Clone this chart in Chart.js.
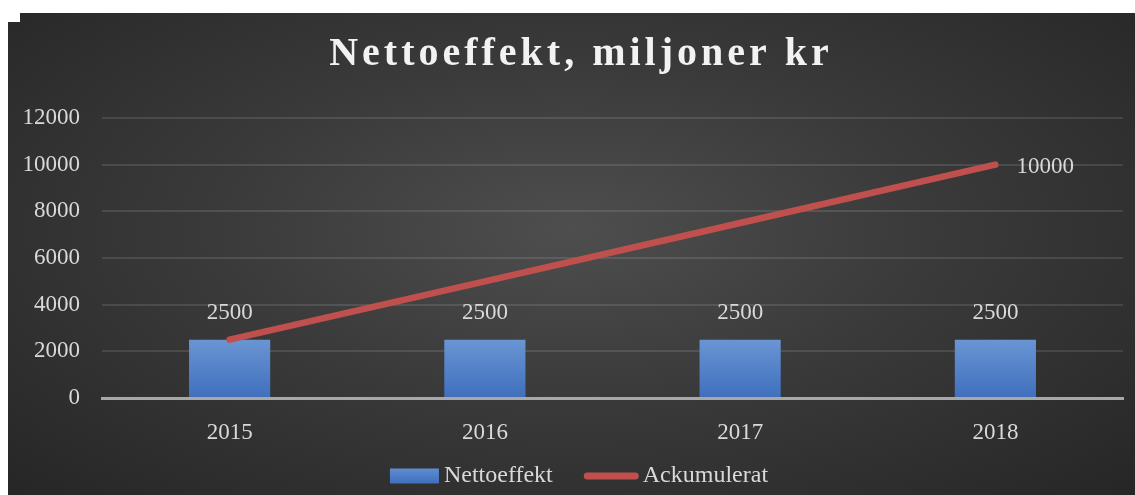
<!DOCTYPE html>
<html>
<head>
<meta charset="utf-8">
<script src="https://cdn.jsdelivr.net/npm/chart.js@4/dist/chart.umd.min.js"></script>
<style>
  body { margin: 0; background: #fff; }
  #ramme {
    position: absolute; left: 8px; top: 13px; width: 1127px; height: 482px;
    background: radial-gradient(ellipse at 50% 45%, #4e4e4e 0%, #3a3a3a 45%, #262626 100%);
  }
  #hjorne { position: absolute; left: 8px; top: 13px; width: 12px; height: 9px; background: #fff; }
</style>
</head>
<body>
<div id="ramme"><canvas id="graf" width="1127" height="482"></canvas></div>
<div id="hjorne"></div>
<script>
let aar = ['2015', '2016', '2017', '2018'];
let nettoeffekt = [2500, 2500, 2500, 2500];
let ackumulerat = [2500, 5000, 7500, 10000];
let yTicks = [0, 2000, 4000, 6000, 8000, 10000, 12000];
let titel = 'Nettoeffekt, miljoner kr';
let serieNavn = ['Nettoeffekt', 'Ackumulerat'];

let tekstFarge = '#d9d9d9';
let skrift = '"Liberation Serif", "Times New Roman", serif';
let rod = '#c0504d';

// blå gradient på søylene
function soyleFarge(context){
  let area = context.chart.chartArea;
  if (!area) return '#4f7fc6';
  let ctx = context.chart.ctx;
  let y0 = context.chart.scales.y.getPixelForValue(2500);
  let g = ctx.createLinearGradient(0, y0, 0, area.bottom);
  g.addColorStop(0, '#6a95d4');
  g.addColorStop(1, '#3f6fbd');
  return g;
}

// tittel med sperret skrift
let tittelPlugin = {
  id: 'tittel',
  afterDraw(chart){
    let ctx = chart.ctx;
    ctx.save();
    ctx.font = 'bold 40px ' + skrift;
    ctx.letterSpacing = '4px';
    ctx.fillStyle = '#f2f2f2';
    ctx.textBaseline = 'alphabetic';
    ctx.textAlign = 'left';
    let w = ctx.measureText(titel).width - 4;
    ctx.fillText(titel, 571 - w / 2, 52);
    ctx.restore();
  }
};

// forklaring nederst
let forklaring = {
  id: 'forklaring',
  afterDraw(chart){
    let ctx = chart.ctx;
    ctx.save();
    ctx.font = '24px ' + skrift;
    ctx.fillStyle = tekstFarge;
    ctx.textBaseline = 'alphabetic';
    ctx.textAlign = 'left';
    let t1 = ctx.measureText(serieNavn[0]).width;
    let t2 = ctx.measureText(serieNavn[1]).width;
    let total = 49 + 5 + t1 + 31 + 55 + 4 + t2;
    let x = 571 - total / 2;
    let yc = 463;
    let g = ctx.createLinearGradient(0, yc - 7.5, 0, yc + 7.5);
    g.addColorStop(0, '#5e8dd1');
    g.addColorStop(1, '#3f6fbd');
    ctx.fillStyle = g;
    ctx.fillRect(x, yc - 7.5, 49, 15);
    x += 49 + 5;
    ctx.fillStyle = tekstFarge;
    ctx.fillText(serieNavn[0], x, yc + 6);
    x += t1 + 31;
    ctx.strokeStyle = rod;
    ctx.lineWidth = 7;
    ctx.lineCap = 'round';
    ctx.beginPath();
    ctx.moveTo(x + 3.5, yc);
    ctx.lineTo(x + 55 - 3.5, yc);
    ctx.stroke();
    x += 55 + 4;
    ctx.fillText(serieNavn[1], x, yc + 6);
    ctx.restore();
  }
};

// verdier over søyler og ved siste punkt
let etiketter = {
  id: 'etiketter',
  afterDatasetsDraw(chart){
    let ctx = chart.ctx;
    ctx.save();
    ctx.font = '23px ' + skrift;
    ctx.fillStyle = tekstFarge;
    let soyler = chart.getDatasetMeta(0).data;
    soyler.forEach(function(el, i){
      ctx.textAlign = 'center';
      ctx.textBaseline = 'middle';
      ctx.fillText(String(nettoeffekt[i]), el.x, el.y - 27);
    });
    let punkter = chart.getDatasetMeta(1).data;
    let siste = punkter[punkter.length - 1];
    ctx.textAlign = 'left';
    ctx.textBaseline = 'middle';
    ctx.fillText(String(ackumulerat[ackumulerat.length - 1]), siste.x + 21, siste.y + 2);
    ctx.restore();
  }
};

let ctx = document.getElementById('graf').getContext('2d');
let graf = new Chart(ctx, {
  data: {
    labels: aar,
    datasets: [{
      type: 'bar',
      label: serieNavn[0],
      data: nettoeffekt,
      backgroundColor: soyleFarge,
      categoryPercentage: 1,
      barPercentage: 0.318,
      order: 1
    }, {
      type: 'line',
      label: serieNavn[1],
      data: ackumulerat,
      borderColor: rod,
      backgroundColor: rod,
      borderWidth: 6.5,
      borderCapStyle: 'round',
      pointRadius: 0,
      tension: 0,
      order: 0
    }]
  },
  options: {
    responsive: false,
    animation: false,
    layout: { padding: { top: 105, left: 0, right: 12, bottom: 44 } },
    scales: {
      x: {
        grid: { display: false, drawTicks: false },
        border: { display: true, color: '#a8a8a8', width: 3 },
        ticks: { color: tekstFarge, font: { family: skrift, size: 23 }, padding: 21 },
        afterFit(scale){ scale.height = 53; }
      },
      y: {
        min: 0,
        max: 12000,
        afterBuildTicks(scale){ scale.ticks = yTicks.map(v => ({ value: v })); },
        grid: { color: 'rgba(255,255,255,0.11)', lineWidth: 2, drawTicks: false },
        border: { display: false },
        ticks: {
          color: tekstFarge,
          font: { family: skrift, size: 23 },
          padding: 22,
          callback: v => String(v)
        },
        afterFit(scale){ scale.width = 94; }
      }
    },
    plugins: {
      title: { display: false },
      legend: { display: false },
      tooltip: { enabled: false }
    }
  },
  plugins: [tittelPlugin, etiketter, forklaring]
});
</script>
</body>
</html>
